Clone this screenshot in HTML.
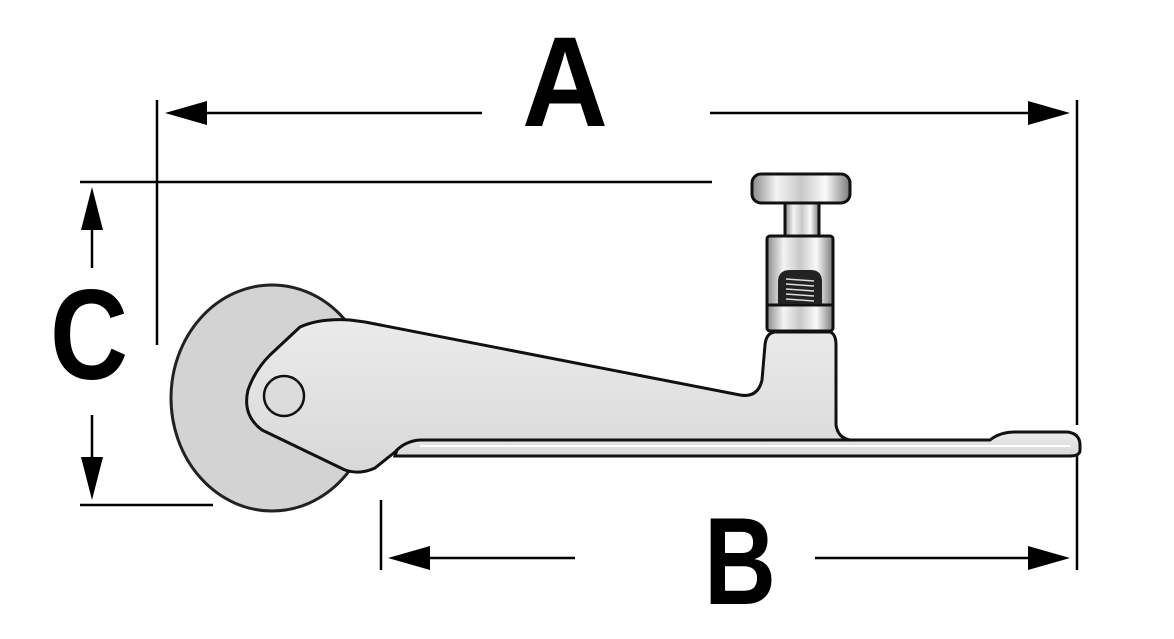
<!DOCTYPE html>
<html><head><meta charset="utf-8"><style>html,body{margin:0;padding:0;background:#fff}svg{display:block}</style></head>
<body>
<svg width="1174" height="639" viewBox="0 0 1174 639" xmlns="http://www.w3.org/2000/svg">
<defs>
<linearGradient id="met" x1="0" y1="0" x2="1" y2="0">
<stop offset="0" stop-color="#8a8a8a"/><stop offset="0.25" stop-color="#f4f4f4"/><stop offset="0.5" stop-color="#c8c8c8"/><stop offset="0.75" stop-color="#fafafa"/><stop offset="1" stop-color="#7a7a7a"/>
</linearGradient>
<linearGradient id="arm" x1="0" y1="0" x2="0" y2="1">
<stop offset="0" stop-color="#ebebeb"/><stop offset="1" stop-color="#d8d8d8"/>
</linearGradient>
</defs>
<g stroke="#000" stroke-width="2.5" fill="none">
<line x1="157" y1="100" x2="157" y2="345"/>
<line x1="1077" y1="100" x2="1077" y2="425"/>
<line x1="195" y1="113" x2="482" y2="113"/>
<line x1="710" y1="113" x2="1040" y2="113"/>
<line x1="80" y1="182" x2="712" y2="182"/>
<line x1="80" y1="505" x2="213" y2="505"/>
<line x1="92" y1="210" x2="92" y2="268"/>
<line x1="92" y1="415" x2="92" y2="480"/>
<line x1="381" y1="500" x2="381" y2="570"/>
<line x1="1077" y1="455" x2="1077" y2="570"/>
<line x1="415" y1="558" x2="575" y2="558"/>
<line x1="815" y1="558" x2="1045" y2="558"/>
</g>
<g fill="#000">
<polygon points="165,113 207,101 207,125"/>
<polygon points="1070,113 1028,101 1028,125"/>
<polygon points="92,187 81,230 103,230"/>
<polygon points="92,500 81,457 103,457"/>
<polygon points="388,558 430,546 430,570"/>
<polygon points="1070,558 1028,546 1028,570"/>
</g>
<g font-family="'Liberation Sans Narrow','Liberation Sans',sans-serif" font-weight="bold" fill="#000">
<text x="522" y="126" font-size="128" textLength="86" lengthAdjust="spacingAndGlyphs">A</text>
<text x="50" y="379" font-size="128" textLength="78" lengthAdjust="spacingAndGlyphs">C</text>
<text x="704" y="604" font-size="124" textLength="72" lengthAdjust="spacingAndGlyphs">B</text>
</g>
<ellipse cx="272" cy="398" rx="101" ry="113" fill="#d3d3d3" stroke="#222" stroke-width="3"/>
<path d="M400,440 L990,440 Q1000,432 1015,432 L1068,432 Q1080,434 1080,445 L1080,450 Q1080,456 1070,456 L395,456 Z" fill="url(#arm)" stroke="#111" stroke-width="3"/>
<line x1="420" y1="446" x2="1070" y2="446" stroke="#fff" stroke-width="2"/>
<path d="M300,327 Q320,318 350,320 L365,322 L740,395 Q758,398 762,380 L765,345 Q766,333 775,332 L830,332 Q836,334 836,345 L836,425 Q838,438 850,440 L420,440 Q405,441 395,452 L375,468 Q360,475 345,470 L262,430 Q242,415 248,390 Q255,370 270,355 Z" fill="url(#arm)" stroke="#111" stroke-width="3" stroke-linejoin="round"/>
<ellipse cx="284" cy="396" rx="20" ry="20" fill="#dcdcdc" stroke="#111" stroke-width="2.5"/>
<rect x="785" y="200" width="34" height="38" fill="url(#met)" stroke="#111" stroke-width="3"/>
<rect x="752" y="174" width="98" height="29" rx="9" fill="url(#met)" stroke="#111" stroke-width="3"/>
<rect x="767" y="236" width="66" height="95" rx="3" fill="url(#met)" stroke="#111" stroke-width="3"/>
<line x1="767" y1="305" x2="833" y2="305" stroke="#111" stroke-width="3"/>
<path d="M778,304 L778,282 Q778,270 790,270 L811,270 Q822,270 822,282 L822,304 Z" fill="#222"/>
<g stroke="#ddd" stroke-width="1.6">
<line x1="786" y1="279" x2="814" y2="281"/><line x1="786" y1="284" x2="814" y2="286"/><line x1="786" y1="289" x2="814" y2="291"/><line x1="786" y1="294" x2="814" y2="296"/><line x1="786" y1="299" x2="814" y2="301"/>
</g>
</svg>
</body></html>
